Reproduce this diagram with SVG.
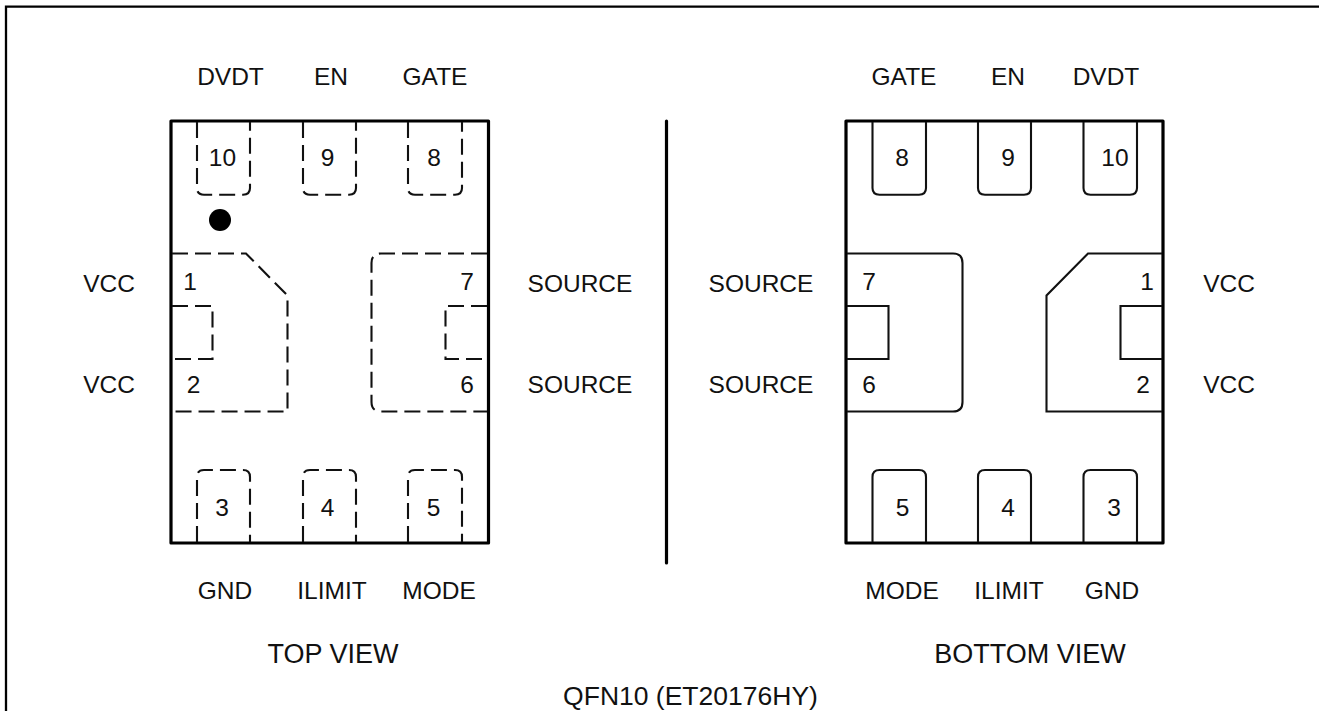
<svg xmlns="http://www.w3.org/2000/svg" width="1319" height="711" viewBox="0 0 1319 711">
<style>
text{font-family:"Liberation Sans",Arial,sans-serif;font-size:24.5px;fill:#111;text-anchor:middle}
.v{font-size:27px}
.b{fill:none;stroke:#000;stroke-width:3.2;stroke-linejoin:round;stroke-linecap:round}
.d{fill:none;stroke:#111;stroke-width:2.1;stroke-dasharray:16 7}
.s{fill:none;stroke:#111;stroke-width:2.1}
</style>
<rect width="1319" height="711" fill="#fff"/>
<path d="M6 711V6.7H1319" fill="none" stroke="#000" stroke-width="2.3"/>
<g id="divider"><path d="M666.5 121V563" fill="none" stroke="#000" stroke-width="3.2" stroke-linecap="round"/></g>
<g id="top-view">
<path class="b" d="M171 121H488.5V543L171 543Z"/>
<circle cx="220" cy="220" r="11" fill="#000"/>
<g class="d">
<path d="M197 122V188Q197 194.7 204 194.7H243Q250 194.7 250 188V122"/>
<path d="M303 122V188Q303 194.7 310 194.7H349Q356 194.7 356 188V122"/>
<path d="M408 122V188Q408 194.7 415 194.7H455Q462 194.7 462 188V122"/>
<path d="M197 542V477Q197 470 204 470H243Q250 470 250 477V542"/>
<path d="M303 542V477Q303 470 310 470H349Q356 470 356 477V542"/>
<path d="M408 542V477Q408 470 415 470H455Q462 470 462 477V542"/>
<path d="M172 253.5H246L287.5 295.5V411.5H172"/>
<path d="M487 253.5H381Q371.5 253.5 371.5 263V402Q371.5 411.5 381 411.5H487"/>
<path d="M172 306H212.5V359H172"/>
<path d="M487 306H445.5V359H487"/>
</g>
</g>
<g id="bottom-view">
<path class="b" d="M846 121H1163V543L846 543Z"/>
<g class="s">
<path d="M872.5 122V188Q872.5 194.7 879.5 194.7H919Q926 194.7 926 188V122"/>
<path d="M978 122V188Q978 194.7 985 194.7H1024Q1031 194.7 1031 188V122"/>
<path d="M1083.5 122V188Q1083.5 194.7 1090.5 194.7H1130Q1137 194.7 1137 188V122"/>
<path d="M872.5 542V477Q872.5 470 879.5 470H919Q926 470 926 477V542"/>
<path d="M978 542V477Q978 470 985 470H1024Q1031 470 1031 477V542"/>
<path d="M1083.5 542V477Q1083.5 470 1090.5 470H1130Q1137 470 1137 477V542"/>
<path d="M847 253.5H953Q962.5 253.5 962.5 263V402Q962.5 411.5 953 411.5H847"/>
<path d="M1162 253.5H1088L1046.5 295.5V411.5H1162"/>
<path d="M847 306H888.5V359H847"/>
<path d="M1162 306H1120.5V359H1162"/>
</g>
</g>
<g id="top-labels">
<text x="230.500" y="85">DVDT</text><text x="331" y="85">EN</text><text x="435" y="85">GATE</text>
<text x="222.500" y="166">10</text><text x="327.500" y="166">9</text><text x="434" y="166">8</text>
<text x="190" y="290">1</text><text x="193.500" y="393">2</text><text x="467" y="290">7</text><text x="467" y="393">6</text>
<text x="222" y="516">3</text><text x="327.500" y="516">4</text><text x="433.500" y="516">5</text>
<text x="109" y="292">VCC</text><text x="109" y="393">VCC</text>
<text x="580" y="292">SOURCE</text><text x="580" y="393">SOURCE</text>
<text x="225" y="599">GND</text><text x="332" y="599">ILIMIT</text><text x="439" y="599">MODE</text>
<text class="v" x="333" y="662.500">TOP VIEW</text>
</g>
<g id="bottom-labels">
<text x="904" y="85">GATE</text><text x="1008" y="85">EN</text><text x="1106" y="85">DVDT</text>
<text x="902" y="166">8</text><text x="1008" y="166">9</text><text x="1115" y="166">10</text>
<text x="869" y="290">7</text><text x="869" y="393">6</text><text x="1147" y="290">1</text><text x="1143" y="393">2</text>
<text x="902.500" y="516">5</text><text x="1008" y="516">4</text><text x="1114" y="516">3</text>
<text x="761" y="292">SOURCE</text><text x="761" y="393">SOURCE</text>
<text x="1229" y="292">VCC</text><text x="1229" y="393">VCC</text>
<text x="902" y="599">MODE</text><text x="1009" y="599">ILIMIT</text><text x="1112" y="599">GND</text>
<text class="v" x="1030" y="662.500">BOTTOM VIEW</text>
</g>
<text style="font-size:26.5px" x="690.500" y="704.500">QFN10 (ET20176HY)</text>
</svg>
